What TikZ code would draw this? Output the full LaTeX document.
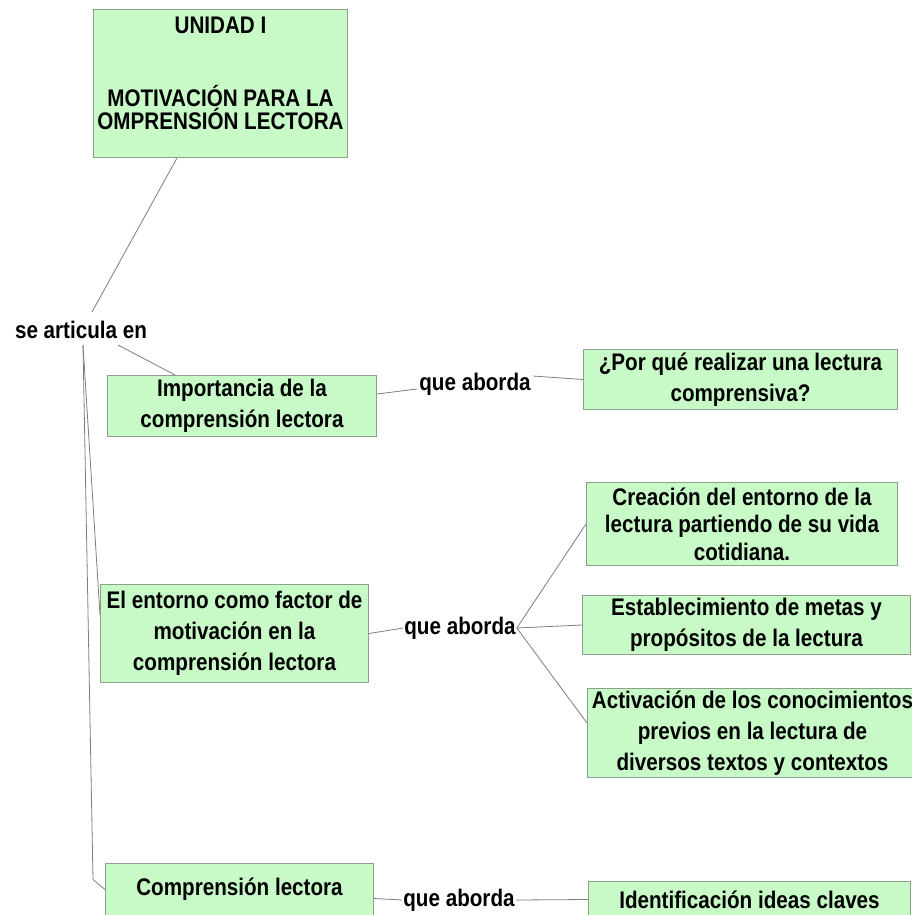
\documentclass[tikz,border=0pt]{standalone}
\usepackage{fontspec}
\setmainfont{Liberation Sans}[FakeStretch=0.86]
\usetikzlibrary{calc}
\definecolor{boxfill}{RGB}{200,250,200}
\definecolor{boxline}{RGB}{140,160,140}
\definecolor{connc}{RGB}{125,125,125}
\newcommand{\mybfont}{\bfseries\fontsize{24}{31}\selectfont}
\begin{document}
\begin{tikzpicture}[x=1pt,y=-1pt,
  box/.style={draw=boxline, line width=1pt, fill=boxfill, anchor=north west,
              inner sep=0pt, align=center, font=\mybfont},
  lbl/.style={inner sep=0pt, font=\mybfont},
  conn/.style={draw=connc, line width=0.8pt}]
\path[use as bounding box] (0,0) rectangle (912,915);
\clip (0,0) rectangle (912,915);

% boxes
\node[box, minimum width=254pt, minimum height=148pt] (unidad) at (93,9)
  {\parbox[c][148pt][t]{254pt}{\centering\fontsize{24}{23}\selectfont\vspace*{7pt}UNIDAD I\\[50pt]MOTIVACIÓN PARA LA\\OMPRENSIÓN LECTORA}};
\node[box, minimum width=269pt, minimum height=61pt] (imp) at (107,375)
  {Importancia de la\\comprensión lectora};
\node[box, minimum width=314pt, minimum height=60pt] (porque) at (583,349)
  {¿Por qué realizar una lectura\\comprensiva?};
\node[box, minimum width=311pt, minimum height=83pt,
      font={\bfseries\fontsize{24}{27.5}\selectfont}] (creacion) at (586,482)
  {Creación del entorno de la\\lectura partiendo de su vida\\cotidiana.};
\node[box, minimum width=328pt, minimum height=59pt] (estab) at (582,595)
  {Establecimiento de metas y\\propósitos de la lectura};
\node[box, minimum width=330pt, minimum height=89pt] (activ) at (587,688)
  {Activación de los conocimientos\\previos en la lectura de\\diversos textos y contextos};
\node[box, minimum width=268pt, minimum height=98pt] (entorno) at (100,584)
  {El entorno como factor de\\motivación en la\\comprensión lectora};
\node[box, minimum width=268pt, minimum height=52pt] (comp) at (105,863)
  {Comprensión lectora};
\node[box, minimum width=322pt, minimum height=36pt] (ident) at (588,881)
  {Identificación ideas claves};

% linking words
\node[lbl] (sea) at (81,330) {se articula en};
\node[lbl] (qa1) at (475,384) {que aborda};
\node[lbl] (qa2) at (460,628) {que aborda};
\node[lbl] (qa3) at (459,900) {que aborda};

% connectors
\draw[conn] ($(unidad.south west)+(84,0)$) -- ($(sea.north)+(11,-9)$);
\draw[conn] ($(sea.south)+(37,6)$) -- ($(imp.north west)+(68,0)$);
\draw[conn] ($(sea.south)+(2,6)$) -- ($(entorno.north west)+(0,31)$);
\draw[conn] ($(sea.south)+(2,6)$) -- ($(comp.west)+(-12,-10)$) -- (comp.west);
\draw[conn] ($(imp.east)+(0,-12)$) -- ($(qa1.west)+(-2,5)$);
\draw[conn] ($(qa1.east)+(2,-8)$) -- (porque.west);
\draw[conn] (entorno.east) -- ($(qa2.west)+(-1,0)$);
\draw[conn] ($(qa2.east)+(1,0)$) -- (creacion.west);
\draw[conn] ($(qa2.east)+(1,0)$) -- (estab.west);
\draw[conn] ($(qa2.east)+(1,0)$) -- ($(activ.west)+(0,-10)$);
\draw[conn] ($(comp.east)+(0,9)$) -- ($(qa3.west)+(-1,0)$);
\draw[conn] ($(qa3.east)+(1,0)$) -- (ident.west);
\end{tikzpicture}
\end{document}
